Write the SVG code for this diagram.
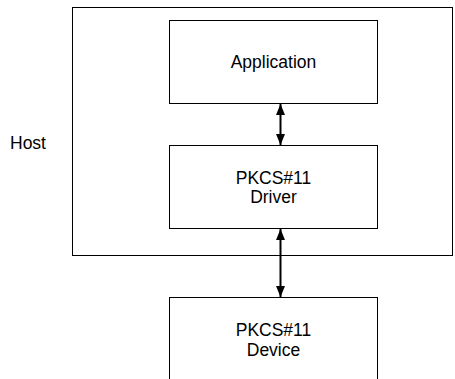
<svg xmlns="http://www.w3.org/2000/svg" width="455" height="379" viewBox="0 0 455 379">
  <style>
    .box { fill: #ffffff; stroke: #000000; stroke-width: 1; }
    .label { font-family: "Liberation Sans", Arial, sans-serif; font-size: 17.5px; fill: #000000; text-anchor: middle; }
    .link { stroke: #000000; stroke-width: 2; fill: none; marker-start: url(#head); marker-end: url(#head); }
  </style>
  <defs>
    <marker id="head" viewBox="0 0 10 10" refX="10" refY="5" markerWidth="11" markerHeight="9" markerUnits="userSpaceOnUse" orient="auto-start-reverse" preserveAspectRatio="none">
      <path d="M0,0 L10,5 L0,10 Z" fill="#000000"/>
    </marker>
  </defs>

  <rect width="455" height="379" fill="#ffffff"/>

  <g id="host">
    <rect class="box" x="72.5" y="7.5" width="380" height="248"/>
    <text class="label" x="28" y="148.5">Host</text>
  </g>

  <g id="application">
    <rect class="box" x="169.5" y="20.5" width="208" height="83"/>
    <text class="label" x="273.5" y="68">Application</text>
  </g>

  <g id="driver">
    <rect class="box" x="169.5" y="145.5" width="208" height="83"/>
    <text class="label" x="273.5" y="183.5">PKCS#11</text>
    <text class="label" x="273.5" y="202.5">Driver</text>
  </g>

  <g id="device">
    <rect class="box" x="169.5" y="297.5" width="208" height="100"/>
    <text class="label" x="273.5" y="336">PKCS#11</text>
    <text class="label" x="273.5" y="356">Device</text>
  </g>

  <g id="connectors">
    <line class="link" x1="280.5" y1="104" x2="280.5" y2="145"/>
    <line class="link" x1="280.5" y1="229" x2="280.5" y2="297"/>
  </g>
</svg>
